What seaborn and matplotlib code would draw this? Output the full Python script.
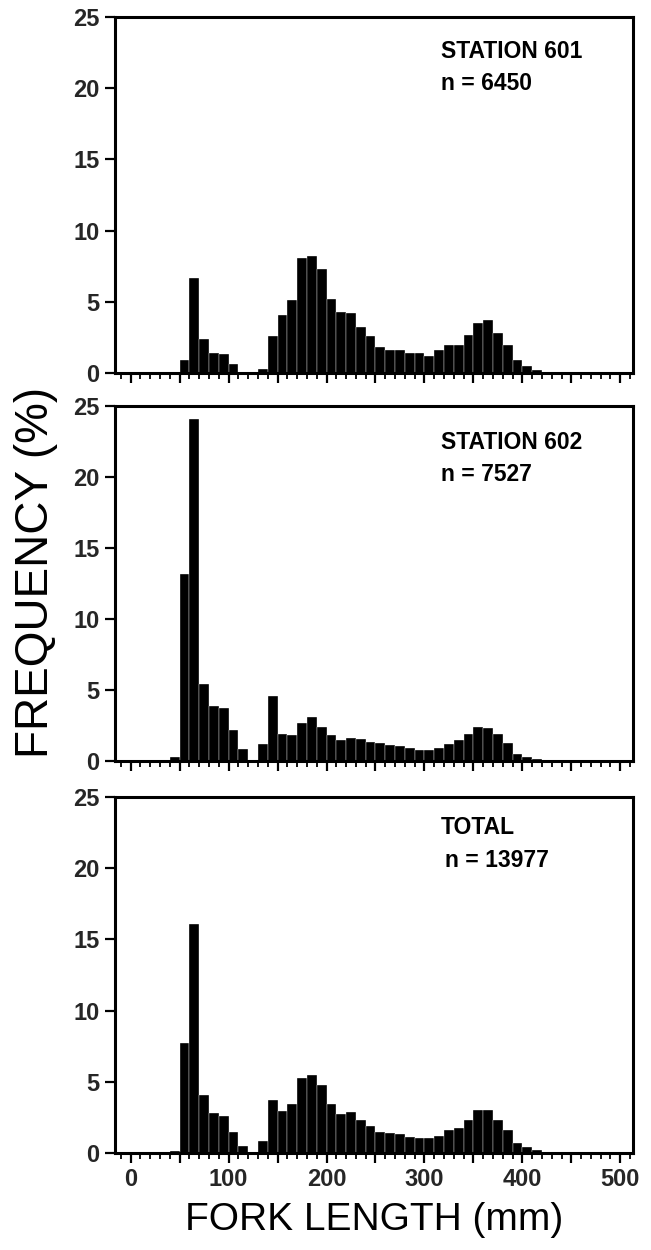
import numpy as np
import pandas as pd
import matplotlib
matplotlib.use("Agg")
import matplotlib.pyplot as plt
import seaborn as sns
from matplotlib.ticker import MultipleLocator, FuncFormatter

# Fork-length classes (left edge of each 10 mm class, mm)
bin_left = [40, 50, 60, 70, 80, 90, 100, 110, 120, 130,
            140, 150, 160, 170, 180, 190, 200, 210, 220, 230,
            240, 250, 260, 270, 280, 290, 300, 310, 320, 330,
            340, 350, 360, 370, 380, 390, 400, 410, 420, 430]

# Frequency (%) per class
station_601 = [0.0, 0.9, 6.7, 2.4, 1.4, 1.3, 0.6, 0.1, 0.0, 0.3,
               2.6, 4.1, 5.1, 8.1, 8.2, 7.3, 5.2, 4.3, 4.2, 3.2,
               2.6, 1.8, 1.6, 1.6, 1.4, 1.4, 1.2, 1.6, 2.0, 2.0,
               2.7, 3.5, 3.7, 2.8, 2.0, 0.9, 0.5, 0.2, 0.05, 0.0]

station_602 = [0.3, 13.2, 24.1, 5.4, 3.9, 3.7, 2.2, 0.85, 0.1, 1.2,
               4.6, 1.9, 1.85, 2.7, 3.1, 2.4, 1.8, 1.5, 1.6, 1.55,
               1.35, 1.25, 1.15, 1.05, 0.9, 0.8, 0.8, 0.9, 1.2, 1.5,
               1.9, 2.4, 2.3, 1.9, 1.3, 0.5, 0.3, 0.15, 0.05, 0.0]

total = [0.15, 7.7, 16.1, 4.1, 2.8, 2.6, 1.5, 0.5, 0.05, 0.85,
         3.7, 2.95, 3.45, 5.3, 5.5, 4.75, 3.45, 2.75, 2.85, 2.35,
         1.9, 1.5, 1.4, 1.3, 1.15, 1.05, 1.05, 1.2, 1.6, 1.75,
         2.3, 3.0, 3.0, 2.35, 1.6, 0.7, 0.4, 0.2, 0.07, 0.03]

panel_titles = ["STATION 601", "STATION 602", "TOTAL"]
panel_counts = ["n = 6450", "n = 7527", "n = 13977"]
y_ticks = [0, 5, 10, 15, 20, 25]

sns.set_theme(style="ticks")
plt.rcParams["font.family"] = ["Liberation Sans", "DejaVu Sans"]

W, H = 651, 1250
fig = plt.figure(figsize=(W / 100, H / 100), dpi=100)

class_width = bin_left[1] - bin_left[0]
bin_span = (bin_left[0], bin_left[-1] + class_width)

# pixel boxes of the three panels: (top, bottom)
boxes = [(17, 373), (406, 761), (797, 1153)]
left_px, right_px = 115, 633
# label baselines (data units) for the two annotation lines
title_y = [22.1, 22.0, 22.4]
count_y = [19.9, 19.7, 20.1]
count_dx = [0, 0, 4]

series = [station_601, station_602, total]
for i, (vals, (top, bot)) in enumerate(zip(series, boxes)):
    df = pd.DataFrame({"length": np.array(bin_left, dtype=float) + class_width / 2,
                       "pct": np.array(vals, dtype=float)})
    ax = fig.add_axes([left_px / W, 1 - bot / H,
                       (right_px - left_px) / W, (bot - top) / H])
    sns.histplot(data=df, x="length", weights="pct",
                 binwidth=class_width, binrange=bin_span, ax=ax,
                 color="black", edgecolor="white", linewidth=0.25,
                 alpha=1.0, stat="count")
    ax.set_xlim(-16, 513)
    ax.set_ylim(0, 25)
    ax.set_xlabel("")
    ax.set_ylabel("")
    ax.set_yticks(y_ticks)
    ax.xaxis.set_major_locator(MultipleLocator(50))
    ax.xaxis.set_minor_locator(MultipleLocator(10))
    ax.xaxis.set_major_formatter(
        FuncFormatter(lambda v, p: f"{int(round(v))}" if round(v) % 100 == 0 else ""))
    ax.tick_params(axis="both", which="major", direction="out",
                   length=7, width=1.6, color="black",
                   labelsize=17, pad=4)
    ax.tick_params(axis="x", which="minor", direction="out",
                   length=4, width=1.3, color="black")
    ax.tick_params(axis="x", which="both", top=False)
    ax.tick_params(axis="y", which="both", right=False)
    for lab in ax.get_yticklabels() + ax.get_xticklabels():
        lab.set_fontweight("bold")
    if i < 2:
        ax.tick_params(axis="x", labelbottom=False)
    for side in ["left", "right", "top", "bottom"]:
        ax.spines[side].set_visible(True)
        ax.spines[side].set_linewidth(2.2)
        ax.spines[side].set_color("black")

    ax.text(317, title_y[i], panel_titles[i], fontsize=16.5, fontweight="bold",
            ha="left", va="baseline", color="black")
    ax.text(317 + count_dx[i], count_y[i], panel_counts[i], fontsize=16.5,
            fontweight="bold", ha="left", va="baseline", color="black")

fig.text(36 / W, 1 - 572 / H, "FREQUENCY (%)", rotation=90,
         ha="center", va="center", fontsize=33, color="black")
fig.text((left_px + right_px) / 2 / W, 1 - 1220 / H, "FORK LENGTH (mm)",
         ha="center", va="center", fontsize=28, color="black")

fig.savefig("out.png", dpi=100, facecolor="white")
